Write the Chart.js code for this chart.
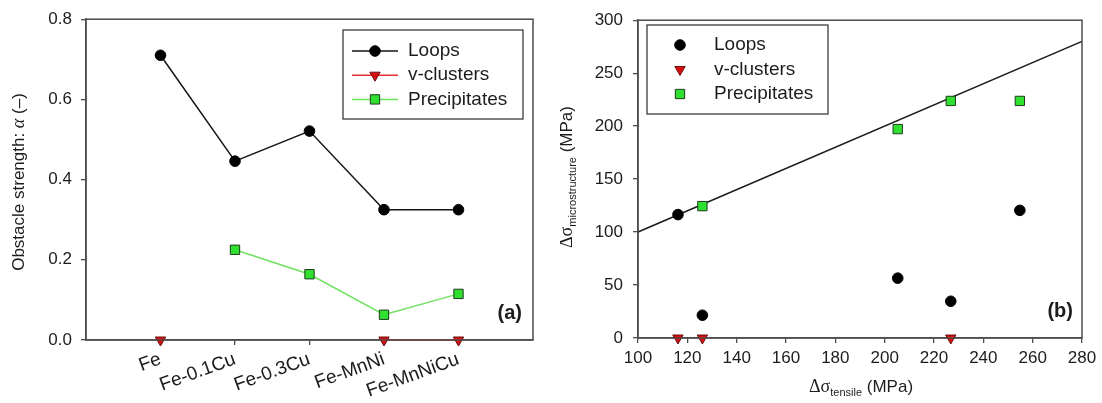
<!DOCTYPE html>
<html>
<head>
<meta charset="utf-8">
<script src="https://cdn.jsdelivr.net/npm/chart.js@4.4.0/dist/chart.umd.min.js"></script>
<style>
  html, body { margin: 0; padding: 0; background: #fff; }
  .panel { position: absolute; top: 0; height: 403px; }
  #left { left: 0; width: 560px; }
  #right { left: 560px; width: 542px; }
</style>
</head>
<body>
<div class="panel" id="left"><canvas id="chartA"></canvas></div>
<div class="panel" id="right"><canvas id="chartB"></canvas></div>
<script>
// (a) obstacle strength per alloy
const alloys = ["Fe", "Fe-0.1Cu", "Fe-0.3Cu", "Fe-MnNi", "Fe-MnNiCu"];
const alphaLoops = [0.71, 0.446, 0.521, 0.325, 0.325];
const alphaClusters = [0, null, null, 0, 0];
const alphaPrecip = [null, 0.225, 0.164, 0.063, 0.115];
const alphaTicks = [0, 0.2, 0.4, 0.6, 0.8];

// (b) microstructure vs tensile hardening, MPa
const loopsX = [116.2, 126.1, 205.3, 226.8, 254.8];
const loopsY = [116.5, 21.5, 56.5, 34.7, 120.5];
const clustersX = [116.2, 126.1, 226.8];
const clustersY = [0, 0, 0];
const precipX = [126.1, 205.3, 226.8, 254.8];
const precipY = [124.5, 197.2, 223.8, 223.8];
const fitX = [100, 280];
const fitY = [100, 280];
const tensileTicks = [100, 120, 140, 160, 180, 200, 220, 240, 260, 280];
const microTicks = [0, 50, 100, 150, 200, 250, 300];

const ink = '#4d4d4d';
const txt = '#1c1c1c';
const sans = '"Liberation Sans", Arial, sans-serif';
const serif = '"Liberation Serif", "Times New Roman", serif';

const pairs = (xs, ys) => xs.map((x, i) => ({ x: x, y: ys[i] }));
const byIndex = vals => vals.map((v, i) => ({ x: i, y: v }));

const loopStyle = {
    borderColor: '#151515', borderWidth: 1.5,
    pointStyle: 'circle', pointRadius: 5.3,
    pointBackgroundColor: '#000', pointBorderColor: '#000', pointBorderWidth: 1
};
const clusterStyle = {
    borderColor: '#ec2f2f', borderWidth: 1.5,
    pointStyle: 'triangle', pointRotation: 180, pointRadius: 6,
    pointBackgroundColor: '#d80e0e', pointBorderColor: '#6a1010', pointBorderWidth: 1
};
const precipStyle = {
    borderColor: '#6fe35f', borderWidth: 1.5,
    pointStyle: 'rect', pointRadius: 6.6,
    pointBackgroundColor: '#2fe02f', pointBorderColor: '#1d3b1d', pointBorderWidth: 1
};

function richText(ctx, parts, x, y, angle) {
    ctx.save();
    ctx.translate(x, y);
    ctx.rotate(angle);
    ctx.fillStyle = txt;
    ctx.textBaseline = 'alphabetic';
    ctx.textAlign = 'left';
    let total = 0;
    parts.forEach(p => { ctx.font = p.font; p.w = ctx.measureText(p.text).width; total += p.w; });
    let cx = -total / 2;
    parts.forEach(p => { ctx.font = p.font; ctx.fillText(p.text, cx, p.dy || 0); cx += p.w; });
    ctx.restore();
}

// frame, legend, panel tag and axis titles
const decor = {
    id: 'decor',
    afterDraw(chart, args, opts) {
        const ctx = chart.ctx, a = chart.chartArea;
        ctx.save();
        ctx.strokeStyle = ink;
        ctx.lineWidth = 1.5;
        ctx.strokeRect(a.left, a.top, a.right - a.left, a.bottom - a.top);

        const L = opts.legend;
        ctx.strokeStyle = '#3c3c3c';
        ctx.lineWidth = 1.3;
        ctx.strokeRect(L.x, L.y, L.w, L.h);
        L.sets.forEach((di, k) => {
            const ds = chart.data.datasets[di];
            const y = L.rowY + k * L.rowGap;
            if (L.line) {
                ctx.strokeStyle = ds.borderColor;
                ctx.lineWidth = ds.borderWidth;
                ctx.beginPath();
                ctx.moveTo(L.lineX0, y);
                ctx.lineTo(L.lineX1, y);
                ctx.stroke();
            }
            ctx.fillStyle = ds.pointBackgroundColor;
            ctx.strokeStyle = ds.pointBorderColor;
            ctx.lineWidth = ds.pointBorderWidth;
            Chart.helpers.drawPoint(ctx, {
                pointStyle: ds.pointStyle, radius: ds.pointRadius,
                rotation: ds.pointRotation || 0, borderWidth: ds.pointBorderWidth
            }, L.markX, y);
            ctx.fillStyle = txt;
            ctx.font = '19px ' + sans;
            ctx.textAlign = 'left';
            ctx.textBaseline = 'middle';
            ctx.fillText(ds.label, L.textX, y);
        });

        ctx.fillStyle = txt;
        ctx.font = 'bold 20px ' + sans;
        ctx.textAlign = 'right';
        ctx.textBaseline = 'middle';
        ctx.fillText(opts.tag, a.right - opts.tagGap, a.bottom - 27);
        ctx.restore();

        (opts.titles || []).forEach(t => richText(ctx, t.parts, t.x, t.y, t.angle));
    }
};

function axis(extra) {
    return Object.assign({
        grid: { drawOnChartArea: false, drawTicks: true, tickLength: 5, color: ink, lineWidth: 1.3 },
        border: { display: true, color: ink, width: 1.5 },
        ticks: { color: txt, font: { family: sans, size: 17 }, padding: 9 }
    }, extra);
}

// chart (a)
new Chart(document.getElementById('chartA'), {
    type: 'line',
    data: {
        datasets: [
            Object.assign({ label: 'Loops', data: byIndex(alphaLoops) }, loopStyle),
            Object.assign({ label: 'v-clusters', data: byIndex(alphaClusters) }, clusterStyle),
            Object.assign({ label: 'Precipitates', data: byIndex(alphaPrecip) }, precipStyle)
        ]
    },
    options: {
        responsive: true,
        maintainAspectRatio: false,
        animation: false,
        datasets: { line: { clip: false, spanGaps: false, tension: 0 } },
        layout: { padding: { top: 19, right: 27, left: 0, bottom: 0 } },
        plugins: {
            legend: { display: false },
            tooltip: { enabled: false },
            decor: {
                tag: '(a)', tagGap: 11,
                legend: { x: 343, y: 30, w: 180, h: 89, rowY: 51, rowGap: 24.2, line: true,
                          lineX0: 352, lineX1: 398, markX: 375, textX: 408, sets: [0, 1, 2] },
                titles: [{
                    x: 24, y: 182, angle: -Math.PI / 2,
                    parts: [
                        { text: 'Obstacle strength: ', font: '17px ' + sans },
                        { text: 'α', font: 'italic 18px ' + serif },
                        { text: ' (–)', font: '17px ' + sans }
                    ]
                }]
            }
        },
        scales: {
            x: axis({
                type: 'linear', min: -1, max: 5,
                afterBuildTicks: s => { s.ticks = alloys.map((c, i) => ({ value: i })); },
                afterFit: s => { s.height = 63; },
                ticks: {
                    color: txt, font: { family: sans, size: 19 }, padding: 3,
                    minRotation: 20, maxRotation: 20, autoSkip: false,
                    callback: v => alloys[v]
                }
            }),
            y: axis({
                min: 0, max: 0.8,
                afterBuildTicks: s => { s.ticks = alphaTicks.map(v => ({ value: v })); },
                afterFit: s => { s.width = 86; },
                ticks: { color: txt, font: { family: sans, size: 17 }, padding: 9, callback: v => v.toFixed(1) }
            })
        }
    },
    plugins: [decor]
});

// chart (b)
new Chart(document.getElementById('chartB'), {
    type: 'scatter',
    data: {
        datasets: [
            Object.assign({ label: 'Loops', data: pairs(loopsX, loopsY) }, loopStyle),
            Object.assign({ label: 'v-clusters', data: pairs(clustersX, clustersY) }, clusterStyle),
            Object.assign({ label: 'Precipitates', data: pairs(precipX, precipY) }, precipStyle),
            {
                type: 'line', label: 'fit', data: pairs(fitX, fitY), order: 1,
                borderColor: '#1a1a1a', borderWidth: 1.6, pointRadius: 0, fill: false
            }
        ]
    },
    options: {
        responsive: true,
        maintainAspectRatio: false,
        animation: false,
        datasets: { scatter: { clip: false }, line: { clip: false } },
        layout: { padding: { top: 18, right: 20, left: 0, bottom: 0 } },
        plugins: {
            legend: { display: false },
            tooltip: { enabled: false },
            decor: {
                tag: '(b)', tagGap: 9,
                legend: { x: 87, y: 25, w: 181, h: 89, rowY: 45, rowGap: 24.5, line: false,
                          markX: 120, textX: 154, sets: [0, 1, 2] },
                titles: [
                    {
                        x: 301, y: 392, angle: 0,
                        parts: [
                            { text: 'Δσ', font: '18px ' + serif },
                            { text: 'tensile', font: '11px ' + sans, dy: 4 },
                            { text: ' (MPa)', font: '17px ' + sans }
                        ]
                    },
                    {
                        x: 12, y: 177, angle: -Math.PI / 2,
                        parts: [
                            { text: 'Δσ', font: '18px ' + serif },
                            { text: 'microstructure', font: '11px ' + sans, dy: 4 },
                            { text: ' (MPa)', font: '17px ' + sans }
                        ]
                    }
                ]
            }
        },
        scales: {
            x: axis({
                type: 'linear', min: 100, max: 280,
                afterBuildTicks: s => { s.ticks = tensileTicks.map(v => ({ value: v })); },
                afterFit: s => { s.height = 65; },
                ticks: { color: txt, font: { family: sans, size: 17 }, padding: 5, maxRotation: 0 }
            }),
            y: axis({
                type: 'linear', min: 0, max: 300,
                afterBuildTicks: s => { s.ticks = microTicks.map(v => ({ value: v })); },
                afterFit: s => { s.width = 78; },
                ticks: { color: txt, font: { family: sans, size: 17 }, padding: 10 }
            })
        }
    },
    plugins: [decor]
});
</script>
</body>
</html>
